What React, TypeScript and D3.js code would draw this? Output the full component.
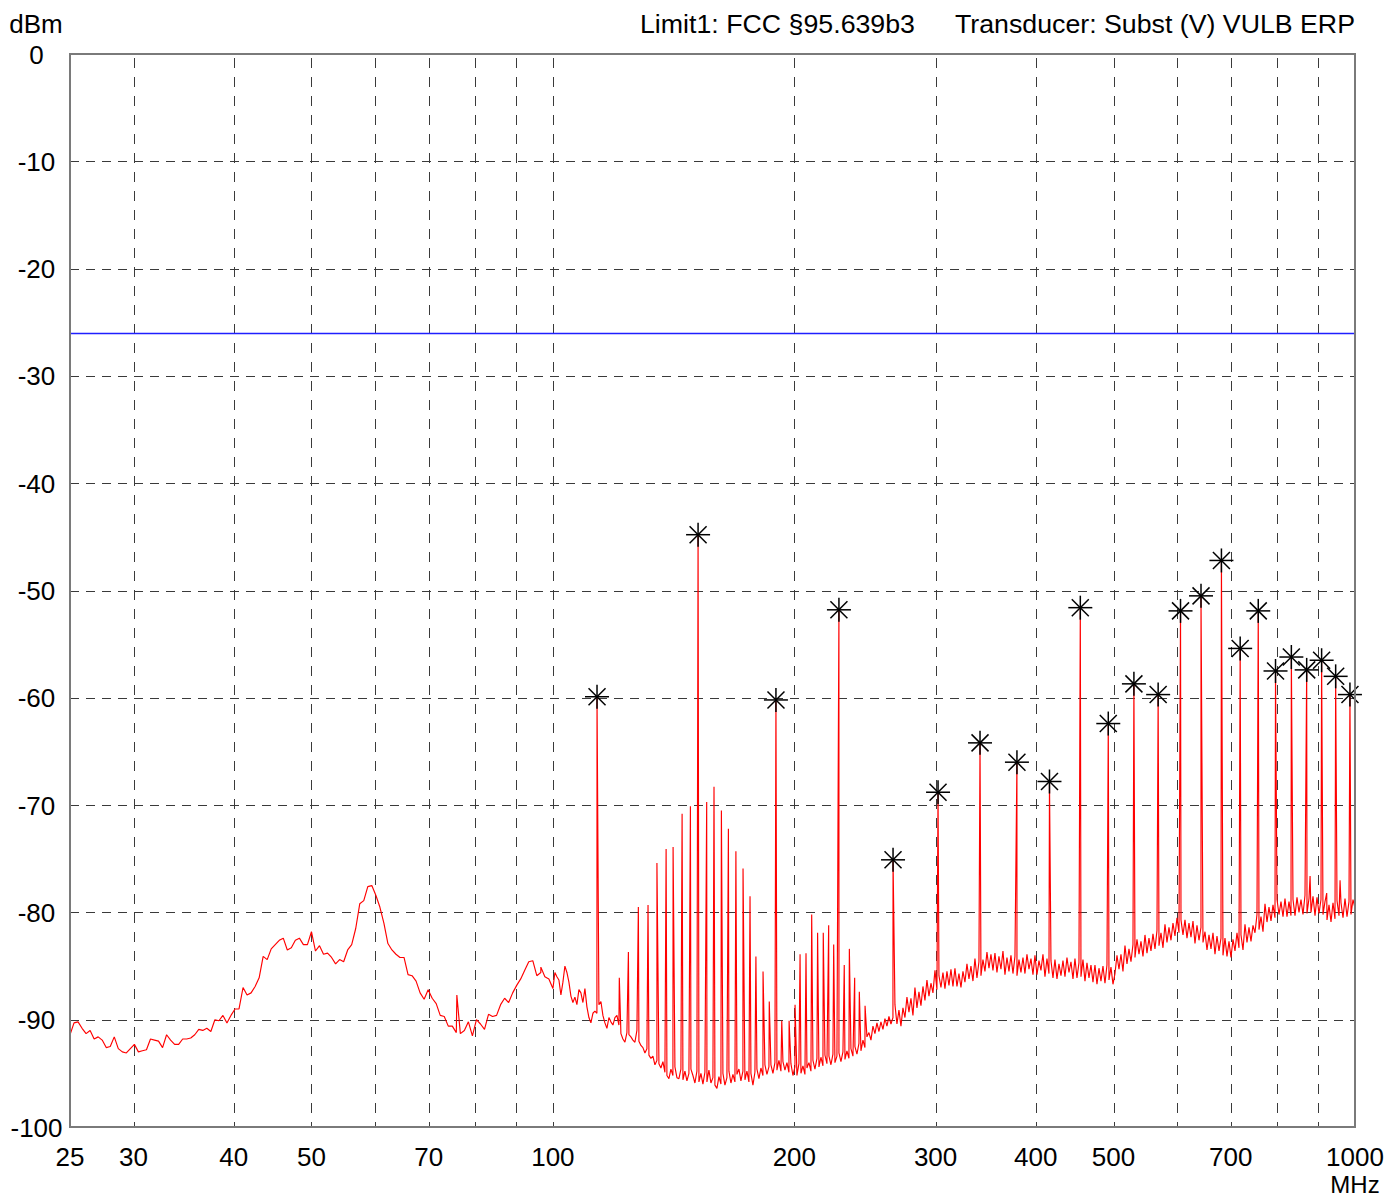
import React from "react";
import * as d3 from "d3";

// ---- axis definitions ----
const yTicks = [0, -10, -20, -30, -40, -50, -60, -70, -80, -90, -100];
const xTickLabels = [25, 30, 40, 50, 70, 100, 200, 300, 400, 500, 700, 1000];
const xGridMHz = [30, 40, 50, 60, 70, 80, 90, 100, 200, 300, 400, 500, 600, 700, 800, 900];
const limitDbm = -26;

// ---- sweep 1: 25 .. 100 MHz (log spaced points) ----
const sweepLowStartMHz = 25;
const sweepLowStopMHz = 100;
const sweepLowDbm = [
  -91.4, -90.3, -90.2, -90.8, -91.3, -91.0, -91.8, -91.6, -91.9, -92.6,
  -92.5, -91.6, -92.7, -93.0, -93.1, -92.7, -92.3, -93.0, -92.9, -92.8,
  -91.8, -91.9, -92.0, -92.6, -91.4, -91.9, -92.3, -92.3, -91.8, -91.8,
  -91.7, -91.4, -90.9, -91.0, -90.8, -91.1, -90.0, -90.1, -89.6, -90.3,
  -89.6, -89.0, -89.0, -87.0, -87.7, -87.5, -86.9, -86.1, -84.1, -84.4,
  -83.4, -83.0, -82.6, -82.4, -83.5, -83.3, -82.6, -82.4, -83.0, -83.0,
  -81.8, -83.6, -83.1, -83.9, -83.8, -84.2, -84.8, -84.4, -84.6, -83.5,
  -83.0, -81.5, -79.2, -78.9, -77.6, -77.5, -78.4, -79.5, -81.0, -82.9,
  -83.5, -83.9, -84.2, -84.2, -85.8, -85.9, -86.4, -87.5, -88.1, -87.2,
  -88.0, -88.5, -89.6, -89.7, -90.6, -90.6, -91.2, -91.3, -91.0, -90.2,
  -91.5, -90.0, -90.4, -90.9, -89.5, -89.7, -89.6, -88.6, -88.0, -88.4,
  -87.5, -86.8, -86.2, -85.4, -84.6, -84.5, -85.9, -85.6, -86.0, -86.2,
  -87.1,
];

// ---- sweep 2: 100 .. 1000 MHz (log spaced points) ----
const sweepHighStartMHz = 100;
const sweepHighStopMHz = 1000;
const sweepHighDbm = [
  -86.7, -85.6, -86.0, -86.3, -87.7, -86.5, -85.0, -85.6, -86.5, -87.8,
  -88.4, -87.9, -88.6, -87.2, -87.5, -88.4, -87.1, -88.8, -89.8, -90.3,
  -89.4, -89.2, -89.4, -88.6, -88.3, -89.6, -90.3, -90.8, -89.8, -90.2,
  -90.5, -89.8, -89.6, -90.5, -91.3, -91.8, -92.1, -91.2, -91.4, -91.6,
  -91.9, -92.1, -91.0, -92.0, -92.4, -92.6, -93.1, -92.7, -93.3, -93.6,
  -93.4, -94.2, -93.8, -94.1, -94.5, -93.9, -94.9, -95.2, -95.5, -94.6,
  -95.2, -94.4, -95.4, -95.5, -94.6, -95.6, -94.8, -95.7, -95.0, -94.6,
  -95.2, -95.9, -94.8, -95.8, -95.0, -96.0, -94.9, -95.8, -94.7, -95.9,
  -95.4, -96.1, -96.4, -95.3, -96.0, -95.0, -96.1, -95.4, -94.8, -95.9,
  -95.1, -95.8, -95.1, -94.6, -95.7, -94.8, -95.6, -94.8, -95.8, -95.0,
  -96.1, -94.9, -94.6, -95.5, -94.5, -95.2, -94.2, -95.1, -94.4, -94.2,
  -95.0, -94.0, -94.7, -93.8, -94.8, -93.9, -94.7, -94.0, -94.9, -94.1,
  -95.2, -94.4, -95.2, -94.1, -95.0, -94.3, -95.1, -94.5, -94.0, -94.8,
  -93.8, -94.6, -93.6, -94.4, -93.5, -94.3, -93.3, -94.1, -93.4, -94.2,
  -93.2, -94.0, -93.4, -93.1, -93.9, -93.0, -93.7, -92.9, -93.6, -92.7,
  -93.4, -92.5, -93.2, -92.2, -92.9, -91.9, -92.6, -91.6, -91.2, -91.9,
  -90.6, -91.3, -90.3, -91.1, -90.2, -90.9, -89.9, -90.6, -89.7, -90.4,
  -89.8,
  -88.6, -90.4, -89.1, -90.6, -88.9,
  -89.8, -87.9, -89.3, -88.0, -89.6,
  -87.0, -88.9, -87.4, -88.7, -86.9,
  -88.2, -86.3, -87.8, -86.6, -87.5,
  -85.4, -87.2, -85.9, -87.0, -85.6,
  -87.1, -85.5, -86.8, -85.3, -86.9,
  -85.2, -86.9, -85.7, -87.0, -85.5,
  -86.5, -84.8, -86.2, -85.0, -86.4,
  -84.3, -86.1, -84.6, -85.9, -84.4,
  -85.5, -83.7, -85.2, -83.9, -85.4,
  -83.8, -85.6, -84.1, -85.3, -83.6,
  -85.8, -84.2, -85.5, -84.0, -85.7,
  -84.1, -85.9, -84.4, -85.6, -84.2,
  -85.7, -83.9, -85.3, -84.3, -85.8,
  -84.0, -85.8, -84.5, -85.4, -83.9,
  -86.0, -84.3, -85.7, -84.5, -86.1,
  -84.4, -86.2, -84.8, -85.9, -84.5,
  -86.0, -84.2, -85.6, -84.6, -86.2,
  -84.3, -86.1, -84.7, -86.0, -84.4,
  -86.4, -84.7, -86.1, -84.9, -86.5,
  -84.9, -86.7, -85.2, -86.4, -85.0,
  -86.6, -84.9, -86.3, -85.1, -86.7,
  -85.7, -84.0, -85.3, -83.9, -85.5,
  -83.1, -84.8, -83.4, -84.6, -83.0,
  -84.2, -82.5, -83.9, -82.7, -84.1,
  -82.1, -83.8, -82.4, -83.6, -82.0,
  -83.4, -81.7, -83.1, -81.9, -83.3,
  -81.1, -82.8, -81.4, -82.6, -81.0,
  -82.2, -80.5, -81.9, -80.7, -82.1,
  -80.7, -82.4, -81.0, -82.3, -80.8,
  -82.9, -81.2, -82.6, -81.4, -82.8,
  -81.8, -83.5, -82.1, -83.4, -81.9,
  -83.9, -82.2, -83.6, -82.4, -84.0,
  -82.4, -84.1, -82.7, -84.2, -82.5,
  -83.6, -81.9, -83.3, -82.1, -83.5,
  -81.1, -82.8, -81.4, -82.7, -81.2,
  -81.9, -80.2, -81.6, -80.4, -81.8,
  -79.2, -80.9, -79.5, -80.8, -79.3,
  -80.5, -78.8, -80.2, -79.0, -80.4,
  -78.7, -80.4, -79.0, -80.3, -78.8,
  -80.3, -78.6, -80.0, -78.8, -80.2,
  -78.4, -80.1, -78.7, -80.0, -78.5,
  -80.3, -78.6, -80.1, -78.8, -80.2,
  -79.0, -80.7, -79.3, -80.9, -79.1,
  -80.6, -78.9, -80.3, -79.1, -80.5,
  -78.7, -80.4, -79.0, -80.2, -78.8, -79.6,
];

// ---- narrow spectral lines (not marked) ----
const spikeMHz = [
  75.9, 96.6, 121.0, 124.2, 127.8, 131.4, 134.8, 138.4, 141.2, 144.9, 148.4,
  155.5, 158.8, 162.2, 165.5, 169.1, 172.6, 176.1, 179.1, 182.8, 186.1,
  192.9, 197.0, 200.4, 203.3, 206.8, 210.2, 213.8, 217.3, 220.7, 223.9,
  230.8, 234.2, 237.8, 241.0, 245.0, 879.0, 922.0, 958.0,
];
const spikeDbm = [
  -87.7, -85.1, -86.1, -83.7, -79.5, -79.3, -75.4, -74.1, -73.9, -70.8, -70.1,
  -69.7, -68.3, -70.5, -72.2, -74.3, -75.9, -78.5, -84.1, -85.5, -88.3,
  -90.1, -90.1, -88.6, -83.9, -83.8, -80.2, -81.9, -81.9, -81.2, -83.0,
  -84.9, -83.4, -86.1, -87.4, -88.7, -76.6, -78.2, -77.0,
];

// ---- marked peaks ----
const markerMHz = [
  113.5, 151.7, 189.7, 227.3, 265.5, 302.1, 340.8, 378.9, 416.0, 454.5, 492.5,
  530.1, 568.3, 606.0, 642.7, 681.5, 719.2, 757.5, 796.0, 833.0, 870.5, 908.6,
  946.0, 985.6,
];
const markerDbm = [
  -59.9, -44.8, -60.2, -51.8, -75.1, -68.8, -64.2, -66.0, -67.8, -51.6, -62.4,
  -58.7, -59.7, -51.9, -50.5, -47.2, -55.4, -51.9, -57.5, -56.2, -57.4, -56.5,
  -58.0, -59.7,
];

const FONT = "'Liberation Sans', Arial, Helvetica, sans-serif";

function sweepPoints(start: number, stop: number, vals: number[]) {
  const l0 = Math.log10(start);
  const l1 = Math.log10(stop);
  return vals.map((v, i) => [Math.pow(10, l0 + ((l1 - l0) * i) / (vals.length - 1)), v] as [number, number]);
}

export default function App() {
  const W = 1387;
  const H = 1198;
  const left = 70, right = 1355, top = 54, bottom = 1127;

  const x = d3.scaleLog().domain([25, 1000]).range([left, right]);
  const y = d3.scaleLinear().domain([-100, 0]).range([bottom, top]);

  const pts: [number, number][] = [
    ...sweepPoints(sweepLowStartMHz, sweepLowStopMHz, sweepLowDbm),
    ...sweepPoints(sweepHighStartMHz, sweepHighStopMHz, sweepHighDbm).slice(1),
    ...spikeMHz.map((f, i) => [f, spikeDbm[i]] as [number, number]),
    ...markerMHz.map((f, i) => [f, markerDbm[i]] as [number, number]),
  ];
  pts.sort((a, b) => a[0] - b[0]);

  const line = d3
    .line<[number, number]>()
    .x((d) => x(d[0]))
    .y((d) => y(d[1]));

  const gridColor = "#3a3a3a";

  return (
    <div style={{ position: "absolute", left: 0, top: 0 }}>
      <svg width={W} height={H} viewBox={`0 0 ${W} ${H}`} style={{ display: "block", background: "#fff" }}>
        <defs>
          <clipPath id="plotClip">
            <rect x={left} y={top} width={right - left} height={bottom - top} />
          </clipPath>
        </defs>
        <rect x={0} y={0} width={W} height={H} fill="#fff" />

        {/* horizontal grid */}
        {yTicks
          .filter((v) => v !== 0 && v !== -100)
          .map((v) => (
            <line
              key={"h" + v}
              x1={left}
              x2={right}
              y1={Math.round(y(v)) + 0.5}
              y2={Math.round(y(v)) + 0.5}
              stroke={gridColor}
              strokeWidth={1}
              strokeDasharray="9,7"
            />
          ))}
        {/* vertical grid */}
        {xGridMHz.map((f) => (
          <line
            key={"v" + f}
            x1={Math.round(x(f)) + 0.5}
            x2={Math.round(x(f)) + 0.5}
            y1={top + 4}
            y2={bottom}
            stroke={gridColor}
            strokeWidth={1}
            strokeDasharray="10,9"
          />
        ))}

        {/* limit line */}
        <line
          x1={left}
          x2={right}
          y1={Math.round(y(limitDbm)) + 0.5}
          y2={Math.round(y(limitDbm)) + 0.5}
          stroke="#1f1fff"
          strokeWidth={1.4}
        />

        {/* trace */}
        <g clipPath="url(#plotClip)">
          <path d={line(pts) || ""} fill="none" stroke="#ff0000" strokeWidth={1.15} strokeLinejoin="bevel" />
        </g>

        {/* markers */}
        {markerMHz.map((f, i) => {
          const cx = x(f);
          const cy = y(markerDbm[i]);
          const r = 12;
          const dg = 8.5;
          return (
            <g key={"m" + i} stroke="#000" strokeWidth={1.5}>
              <line x1={cx - r} x2={cx + r} y1={cy} y2={cy} />
              <line x1={cx} x2={cx} y1={cy - r} y2={cy + r} />
              <line x1={cx - dg} x2={cx + dg} y1={cy - dg} y2={cy + dg} />
              <line x1={cx - dg} x2={cx + dg} y1={cy + dg} y2={cy - dg} />
            </g>
          );
        })}

        {/* frame */}
        <rect x={left} y={top} width={right - left} height={bottom - top} fill="none" stroke="#7a7a7a" strokeWidth={2} />

        {/* y labels */}
        <g fontFamily={FONT} fontSize={26} fill="#000" textAnchor="middle">
          {yTicks.map((v) => (
            <text key={"yl" + v} x={36.5} y={y(v) + 9.5}>
              {v}
            </text>
          ))}
          <text x={36} y={33}>dBm</text>
        </g>

        {/* x labels */}
        <g fontFamily={FONT} fontSize={26} fill="#000" textAnchor="middle">
          {xTickLabels.map((f) => (
            <text key={"xl" + f} x={x(f)} y={1165.5}>
              {f}
            </text>
          ))}
        </g>
        <text x={x(1000)} y={1192.8} fontFamily={FONT} fontSize={24} fill="#000" textAnchor="middle">
          MHz
        </text>

        {/* header */}
        <g fontFamily={FONT} fontSize={26.5} fill="#000">
          <text x={640} y={33} textAnchor="start" textLength={275} lengthAdjust="spacingAndGlyphs">
            Limit1: FCC §95.639b3
          </text>
          <text x={955} y={33} textAnchor="start" textLength={400} lengthAdjust="spacingAndGlyphs">
            Transducer: Subst (V) VULB ERP
          </text>
        </g>
      </svg>
    </div>
  );
}
